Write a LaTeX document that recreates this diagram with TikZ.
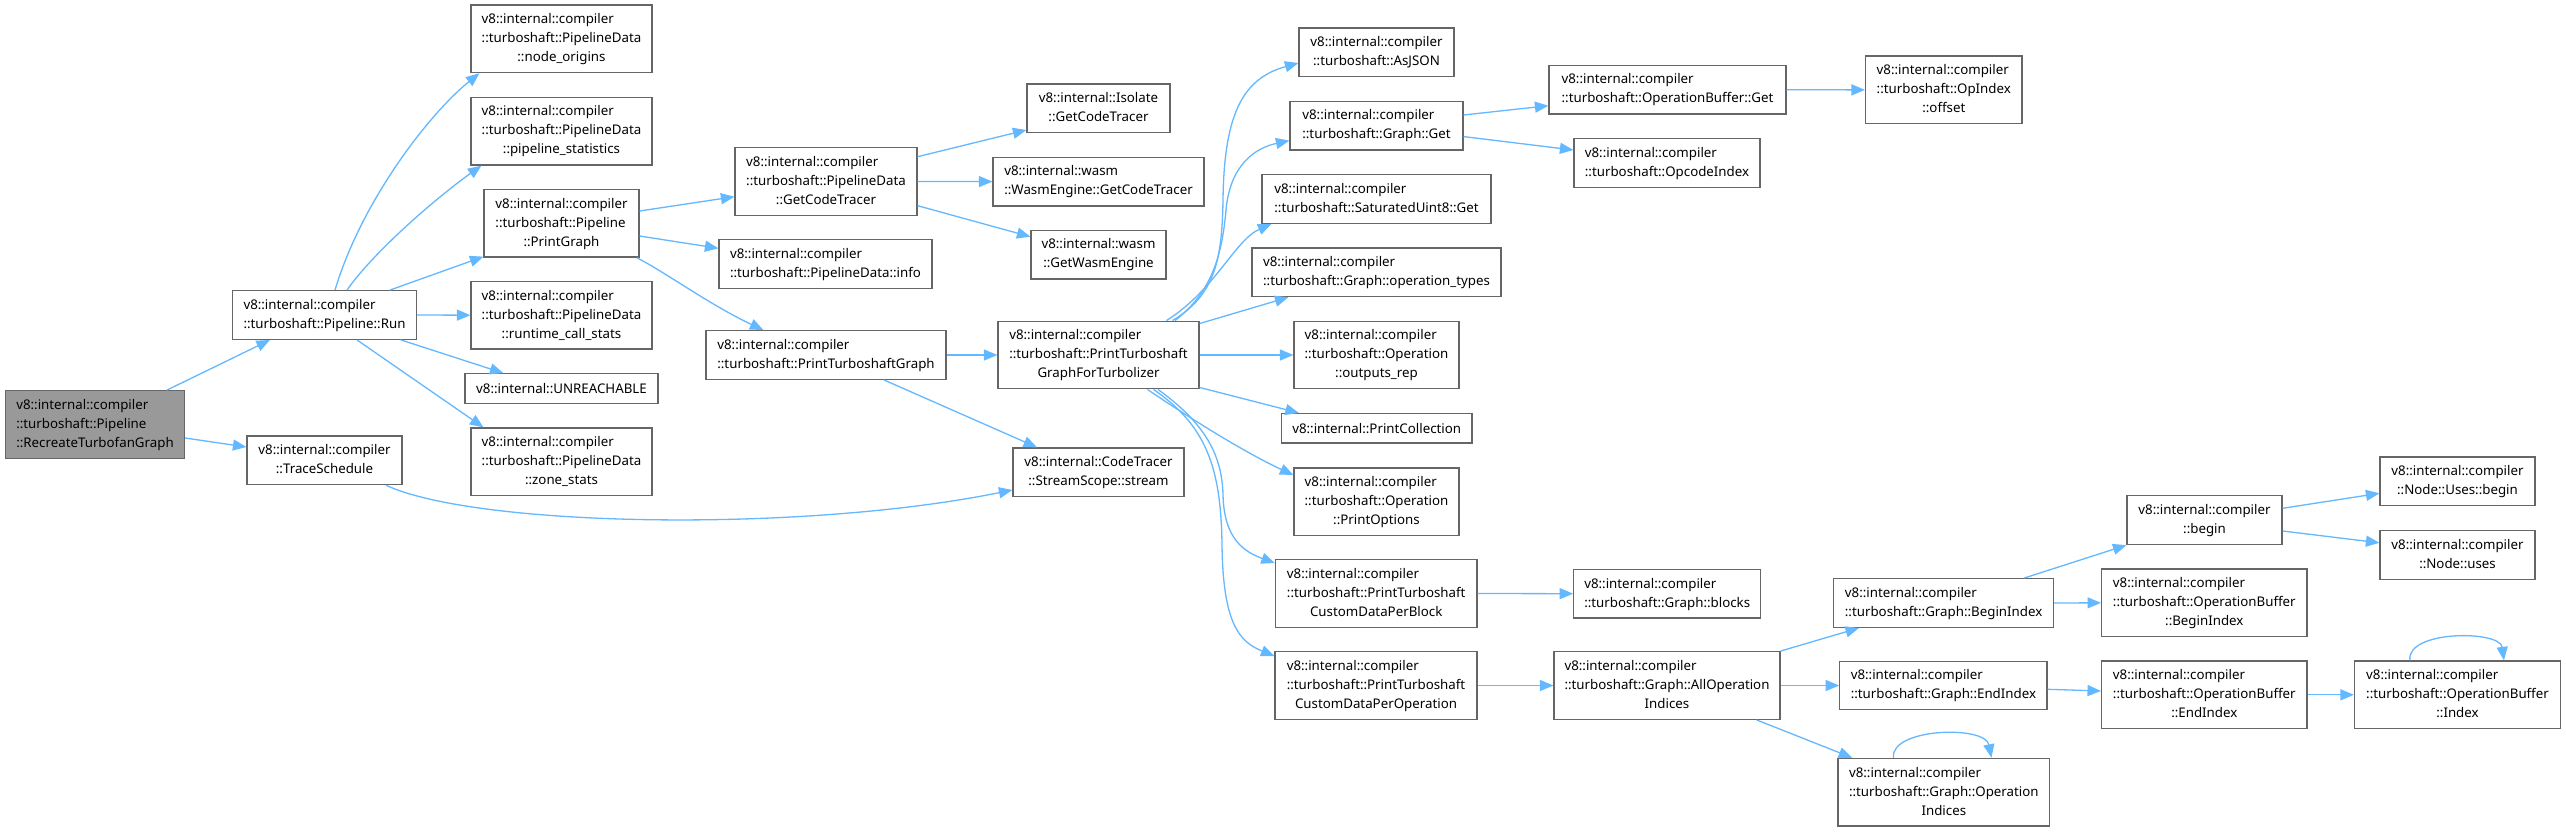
\documentclass[tikz,border=0pt]{standalone}
\usepackage{fontspec}
\setmainfont{Noto Sans}
\usetikzlibrary{arrows.meta}
\definecolor{edgeblue}{RGB}{99,184,255}
\definecolor{boxgray}{RGB}{102,102,102}
\definecolor{rootfill}{RGB}{153,153,153}
\newcommand{\twoL}[2]{\begin{tabular}{@{}l@{}}#1\\\multicolumn{1}{@{}c@{}}{#2}\end{tabular}}
\newcommand{\threeL}[3]{\begin{tabular}{@{}l@{}}#1\\#2\\\multicolumn{1}{@{}c@{}}{#3}\end{tabular}}
\tikzset{
  box/.style={draw=boxgray, line width=1.2pt, fill=white, inner sep=0pt, text=black,
    font=\fontsize{13.3}{19}\selectfont},
  oneh/.style={minimum height=29.5},
  twoh/.style={minimum height=48.7},
  threeh/.style={minimum height=67.7},
  edge/.style={draw=edgeblue, line width=1.3pt, -{Triangle[length=13.5pt,width=11pt]}}
}
\begin{document}
\begin{tikzpicture}[x=1pt,y=-1pt]
\fill[white] (0,0) rectangle (2566,832);
\useasboundingbox (0,0) rectangle (2566,832);

% column 0/1
\node[box, threeh, fill=rootfill, minimum width=179] (root) at (95,424.5) {\threeL{v8::internal::compiler}{::turboshaft::Pipeline}{::RecreateTurbofanGraph}};
\node[box, twoh, minimum width=184] (run) at (324.5,315) {\twoL{v8::internal::compiler}{::turboshaft::Pipeline::Run}};
\node[box, twoh, minimum width=155] (trace) at (324.5,460.3) {\twoL{v8::internal::compiler}{::TraceSchedule}};
% column 2
\node[box, threeh, minimum width=181] (nodeorig) at (561.5,38.8) {\threeL{v8::internal::compiler}{::turboshaft::PipelineData}{::node\_origins}};
\node[box, threeh, minimum width=181] (pstats) at (561.5,131.2) {\threeL{v8::internal::compiler}{::turboshaft::PipelineData}{::pipeline\_statistics}};
\node[box, threeh, minimum width=155] (printgraph) at (561.5,223.2) {\threeL{v8::internal::compiler}{::turboshaft::Pipeline}{::PrintGraph}};
\node[box, threeh, minimum width=181] (rcs) at (561.5,315.2) {\threeL{v8::internal::compiler}{::turboshaft::PipelineData}{::runtime\_call\_stats}};
\node[box, oneh, minimum width=193] (unreach) at (561.5,388.5) {v8::internal::UNREACHABLE};
\node[box, threeh, minimum width=181] (zone) at (561.5,461.8) {\threeL{v8::internal::compiler}{::turboshaft::PipelineData}{::zone\_stats}};
% column 3
\node[box, threeh, minimum width=182] (pdgct) at (826,181.5) {\threeL{v8::internal::compiler}{::turboshaft::PipelineData}{::GetCodeTracer}};
\node[box, twoh, minimum width=213] (pdinfo) at (825.5,264) {\twoL{v8::internal::compiler}{::turboshaft::PipelineData::info}};
\node[box, twoh, minimum width=240] (ptg) at (826,355) {\twoL{v8::internal::compiler}{::turboshaft::PrintTurboshaftGraph}};
% column 4
\node[box, twoh, minimum width=143] (isolate) at (1098.5,108.3) {\twoL{v8::internal::Isolate}{::GetCodeTracer}};
\node[box, twoh, minimum width=211] (wasmgct) at (1098.5,181.6) {\twoL{v8::internal::wasm}{::WasmEngine::GetCodeTracer}};
\node[box, twoh, minimum width=135] (getwasm) at (1098.5,254.6) {\twoL{v8::internal::wasm}{::GetWasmEngine}};
\node[box, threeh, minimum width=201] (ptgft) at (1098.5,355) {\threeL{v8::internal::compiler}{::turboshaft::PrintTurboshaft}{GraphForTurbolizer}};
\node[box, twoh, minimum width=171] (stream) at (1098.5,472.3) {\twoL{v8::internal::CodeTracer}{::StreamScope::stream}};
% column 5
\node[box, twoh, minimum width=155] (asjson) at (1376.5,52.3) {\twoL{v8::internal::compiler}{::turboshaft::AsJSON}};
\node[box, twoh, minimum width=173] (graphget) at (1376.5,125.6) {\twoL{v8::internal::compiler}{::turboshaft::Graph::Get}};
\node[box, twoh, minimum width=229] (satget) at (1376.5,199) {\twoL{v8::internal::compiler}{::turboshaft::SaturatedUint8::Get}};
\node[box, twoh, minimum width=249] (optypes) at (1376.5,272.3) {\twoL{v8::internal::compiler}{::turboshaft::Graph::operation\_types}};
\node[box, threeh, minimum width=165] (outrep) at (1376.5,355) {\threeL{v8::internal::compiler}{::turboshaft::Operation}{::outputs\_rep}};
\node[box, oneh, minimum width=190.5] (printcoll) at (1376.7,428.3) {v8::internal::PrintCollection};
\node[box, threeh, minimum width=165] (printopt) at (1376.5,501.8) {\threeL{v8::internal::compiler}{::turboshaft::Operation}{::PrintOptions}};
\node[box, threeh, minimum width=201.6] (cdpb) at (1376.2,593.5) {\threeL{v8::internal::compiler}{::turboshaft::PrintTurboshaft}{CustomDataPerBlock}};
\node[box, threeh, minimum width=202] (cdpo) at (1376,685.5) {\threeL{v8::internal::compiler}{::turboshaft::PrintTurboshaft}{CustomDataPerOperation}};
% column 6
\node[box, twoh, minimum width=237] (obget) at (1667.5,89.7) {\twoL{v8::internal::compiler}{::turboshaft::OperationBuffer::Get}};
\node[box, twoh, minimum width=186] (opcode) at (1667,163) {\twoL{v8::internal::compiler}{::turboshaft::OpcodeIndex}};
\node[box, twoh, minimum width=187] (blocks) at (1667.2,593.7) {\twoL{v8::internal::compiler}{::turboshaft::Graph::blocks}};
\node[box, threeh, minimum width=226] (allopidx) at (1667,685.5) {\threeL{v8::internal::compiler}{::turboshaft::Graph::AllOperation}{Indices}};
% column 7
\node[box, threeh, minimum width=156.5] (offset) at (1943.8,89.9) {\threeL{v8::internal::compiler}{::turboshaft::OpIndex}{::offset}};
\node[box, twoh, minimum width=220] (gbegin) at (1943.6,603) {\twoL{v8::internal::compiler}{::turboshaft::Graph::BeginIndex}};
\node[box, twoh, minimum width=207.3] (gend) at (1943.4,685.5) {\twoL{v8::internal::compiler}{::turboshaft::Graph::EndIndex}};
\node[box, threeh, minimum width=211.5] (gopidx) at (1943.8,792.2) {\threeL{v8::internal::compiler}{::turboshaft::Graph::Operation}{Indices}};
% column 8
\node[box, twoh, minimum width=155] (begin) at (2204.5,520.2) {\twoL{v8::internal::compiler}{::begin}};
\node[box, threeh, minimum width=205.4] (obbegin) at (2204.3,602.8) {\threeL{v8::internal::compiler}{::turboshaft::OperationBuffer}{::BeginIndex}};
\node[box, threeh, minimum width=205.4] (obend) at (2204.3,694.8) {\threeL{v8::internal::compiler}{::turboshaft::OperationBuffer}{::EndIndex}};
% column 9
\node[box, twoh, minimum width=155] (usesbegin) at (2457.5,481.3) {\twoL{v8::internal::compiler}{::Node::Uses::begin}};
\node[box, twoh, minimum width=155] (nodeuses) at (2457.5,554.8) {\twoL{v8::internal::compiler}{::Node::uses}};
\node[box, threeh, minimum width=206] (obindex) at (2457.5,694.8) {\threeL{v8::internal::compiler}{::turboshaft::OperationBuffer}{::Index}};

% edges
\draw[edge] ([xshift=72]root.north) -- ([xshift=-54.5]run.south);
\draw[edge] ([yshift=-13.5]root.east) -- ([yshift=13.3]trace.west);
\draw[edge] ([xshift=10.5]run.north) .. controls (362,200) and (430,113) .. ([xshift=9]nodeorig.south west);
\draw[edge] ([xshift=22.5]run.north) .. controls (375,250) and (440,195) .. ([xshift=11]pstats.south west);
\draw[edge] ([xshift=65.5]run.north) -- ([yshift=1]printgraph.south west);
\draw[edge] (run.east) -- (rcs.west);
\draw[edge] ([xshift=76.5]run.south) -- ([xshift=39]unreach.north west);
\draw[edge] ([xshift=32.5]run.south) -- ([xshift=13]zone.north west);
\draw[edge] ([yshift=12.2]printgraph.east) -- ([yshift=-15.2]pdgct.west);
\draw[edge] ([yshift=-12.8]printgraph.east) -- ([yshift=15.7]pdinfo.west);
\draw[edge] ([xshift=-3]printgraph.south east) .. controls (665,272) and (710,305) .. ([xshift=58]ptg.north west);
\draw[edge] ([xshift=61.5]trace.south) .. controls (476,527) and (800,533) .. ([yshift=-17.7]stream.west);
\draw[edge] ([yshift=24.8]pdgct.east) -- ([yshift=-21.7]isolate.west);
\draw[edge] (pdgct.east) -- (wasmgct.west);
\draw[edge] ([yshift=-24.2]pdgct.east) -- ([yshift=17.9]getwasm.west);
\draw[edge] (ptg.east) -- (ptgft.west);
\draw[edge] ([xshift=58]ptg.south) -- ([xshift=24.6]stream.north west);
\draw[edge] ([xshift=74]ptgft.north) .. controls (1215,295) and (1222,260) .. (1223,200) .. controls (1224,110) and (1245,78) .. ([yshift=-10.7]asjson.west);
\draw[edge] ([xshift=76.5]ptgft.north) .. controls (1212,292) and (1222,255) .. (1226,210) .. controls (1230,165) and (1255,148) .. ([yshift=-15]graphget.west);
\draw[edge] ([xshift=68]ptgft.north) .. controls (1215,290) and (1235,240) .. ([xshift=10]satget.south west);
\draw[edge] ([yshift=-3]ptgft.north east) -- ([xshift=37]optypes.south west);
\draw[edge] (ptgft.east) -- (outrep.west);
\draw[edge] ([yshift=2]ptgft.south east) -- ([xshift=18]printcoll.north west);
\draw[edge] ([xshift=49]ptgft.south) .. controls (1200,425) and (1250,455) .. ([yshift=26.8]printopt.west);
\draw[edge] ([xshift=59.5]ptgft.south) .. controls (1200,420) and (1222,450) .. (1223,495) .. controls (1224,540) and (1245,552) .. ([yshift=-4]cdpb.north west);
\draw[edge] ([xshift=55]ptgft.south) .. controls (1205,425) and (1221,465) .. (1222,545) .. controls (1223,625) and (1240,642) .. ([yshift=-5]cdpo.north west);
\draw[edge] ([yshift=10.6]graphget.east) -- ([yshift=-16]obget.west);
\draw[edge] ([yshift=-11]graphget.east) -- ([yshift=13]opcode.west);
\draw[edge] (obget.east) -- (offset.west);
\draw[edge] (cdpb.east) -- (blocks.west);
\draw[edge] (cdpo.east) -- (allopidx.west);
\draw[edge] (allopidx.north east) -- ([xshift=26]gbegin.south west);
\draw[edge] (allopidx.east) -- (gend.west);
\draw[edge] ([xshift=89.7]allopidx.south) -- ([xshift=14.7]gopidx.north west);
\draw[edge] ([xshift=56]gopidx.north west) .. controls (1890,728) and (1985,725) .. ([xshift=154]gopidx.north west);
\draw[edge] ([xshift=-30]gbegin.north east) -- (begin.south west);
\draw[edge] (gbegin.east) -- (obbegin.west);
\draw[edge] ([yshift=-3.8]gend.east) -- ([yshift=3.8]obend.west);
\draw[edge] (obend.east) -- (obindex.west);
\draw[edge] ([xshift=56]obindex.north west) .. controls (2406,630) and (2500,630) .. ([xshift=150]obindex.north west);
\draw[edge] ([yshift=11.9]begin.east) -- ([yshift=-12]usesbegin.west);
\draw[edge] ([yshift=-10.8]begin.east) -- ([yshift=12]nodeuses.west);
\end{tikzpicture}
\end{document}
